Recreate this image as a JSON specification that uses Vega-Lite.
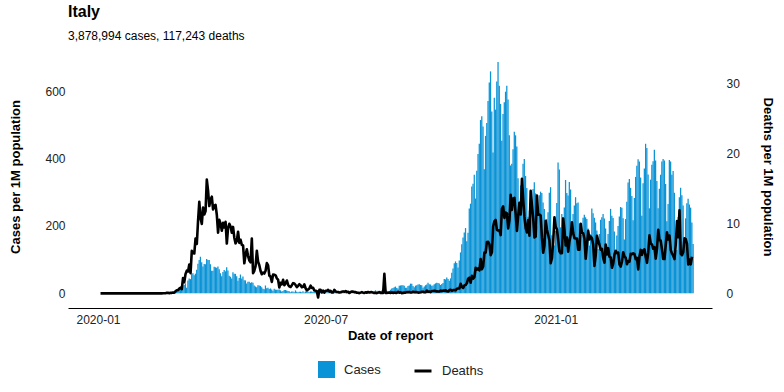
{
"$schema": "https://vega.github.io/schema/vega-lite/v6.json",
"width": 644, "height": 263,
"autosize": "none",
"padding": {"left": 68, "top": 45, "right": 72, "bottom": 84},
"config": {"view": {"stroke": null}, "font": "Liberation Sans"},
"title": {"text": "Italy", "subtitle": "3,878,994 cases, 117,243 deaths", "anchor": "start", "frame": "group", "offset": 3, "fontSize": 16, "fontWeight": "bold", "color": "#000", "subtitleFontSize": 12, "subtitleColor": "#000", "subtitlePadding": 11},
"data": {"values": [
{"date":"2020-01-03","cases":0,"deaths":0},{"date":"2020-01-04","cases":0,"deaths":0},{"date":"2020-01-05","cases":0,"deaths":0},{"date":"2020-01-06","cases":0,"deaths":0},{"date":"2020-01-07","cases":0,"deaths":0},{"date":"2020-01-08","cases":0,"deaths":0},{"date":"2020-01-09","cases":0,"deaths":0},{"date":"2020-01-10","cases":0,"deaths":0},{"date":"2020-01-11","cases":0,"deaths":0},{"date":"2020-01-12","cases":0,"deaths":0},{"date":"2020-01-13","cases":0,"deaths":0},{"date":"2020-01-14","cases":0,"deaths":0},{"date":"2020-01-15","cases":0,"deaths":0},{"date":"2020-01-16","cases":0,"deaths":0},{"date":"2020-01-17","cases":0,"deaths":0},{"date":"2020-01-18","cases":0,"deaths":0},{"date":"2020-01-19","cases":0,"deaths":0},{"date":"2020-01-20","cases":0,"deaths":0},{"date":"2020-01-21","cases":0,"deaths":0},{"date":"2020-01-22","cases":0,"deaths":0},{"date":"2020-01-23","cases":0,"deaths":0},{"date":"2020-01-24","cases":0,"deaths":0},{"date":"2020-01-25","cases":0,"deaths":0},{"date":"2020-01-26","cases":0,"deaths":0},{"date":"2020-01-27","cases":0,"deaths":0},{"date":"2020-01-28","cases":0,"deaths":0},{"date":"2020-01-29","cases":0,"deaths":0},{"date":"2020-01-30","cases":0,"deaths":0},{"date":"2020-01-31","cases":0,"deaths":0},
{"date":"2020-02-01","cases":0,"deaths":0},{"date":"2020-02-02","cases":0,"deaths":0},{"date":"2020-02-03","cases":0,"deaths":0},{"date":"2020-02-04","cases":0,"deaths":0},{"date":"2020-02-05","cases":0,"deaths":0},{"date":"2020-02-06","cases":0,"deaths":0},{"date":"2020-02-07","cases":0,"deaths":0},{"date":"2020-02-08","cases":0,"deaths":0},{"date":"2020-02-09","cases":0,"deaths":0},{"date":"2020-02-10","cases":0,"deaths":0},{"date":"2020-02-11","cases":0,"deaths":0},{"date":"2020-02-12","cases":0,"deaths":0},{"date":"2020-02-13","cases":0,"deaths":0},{"date":"2020-02-14","cases":0,"deaths":0},{"date":"2020-02-15","cases":0,"deaths":0},{"date":"2020-02-16","cases":0,"deaths":0},{"date":"2020-02-17","cases":0,"deaths":0},{"date":"2020-02-18","cases":0,"deaths":0},{"date":"2020-02-19","cases":0,"deaths":0},{"date":"2020-02-20","cases":0,"deaths":0},{"date":"2020-02-21","cases":0,"deaths":0},
{"date":"2020-02-22","cases":0.3,"deaths":0.02},{"date":"2020-02-23","cases":1.0,"deaths":0.02},{"date":"2020-02-24","cases":1.2,"deaths":0.02},{"date":"2020-02-25","cases":1.3,"deaths":0.07},{"date":"2020-02-26","cases":1.5,"deaths":0.07},{"date":"2020-02-27","cases":1.3,"deaths":0.02},{"date":"2020-02-28","cases":4.1,"deaths":0.08},{"date":"2020-02-29","cases":3.9,"deaths":0.07},
{"date":"2020-03-01","cases":4.0,"deaths":0.13},{"date":"2020-03-02","cases":9.4,"deaths":0.08},{"date":"2020-03-03","cases":5.7,"deaths":0.3},{"date":"2020-03-04","cases":7.7,"deaths":0.45},{"date":"2020-03-05","cases":9.7,"deaths":0.46},{"date":"2020-03-06","cases":12.7,"deaths":0.68},{"date":"2020-03-07","cases":12.9,"deaths":0.81},{"date":"2020-03-08","cases":20.6,"deaths":0.6},{"date":"2020-03-09","cases":24.7,"deaths":2.2},{"date":"2020-03-10","cases":29.7,"deaths":1.6},{"date":"2020-03-11","cases":16.2,"deaths":2.78},{"date":"2020-03-12","cases":38.3,"deaths":3.24},{"date":"2020-03-13","cases":43.8,"deaths":3.13},{"date":"2020-03-14","cases":42.1,"deaths":4.13},{"date":"2020-03-15","cases":57.8,"deaths":2.89},{"date":"2020-03-16","cases":59.4,"deaths":6.09},{"date":"2020-03-17","cases":53.5,"deaths":5.77},{"date":"2020-03-18","cases":58.3,"deaths":5.71},{"date":"2020-03-19","cases":69.6,"deaths":7.86},{"date":"2020-03-20","cases":88.0,"deaths":7.06},{"date":"2020-03-21","cases":99.0,"deaths":10.37},{"date":"2020-03-22","cases":108.5,"deaths":13.12},{"date":"2020-03-23","cases":92.0,"deaths":10.77},{"date":"2020-03-24","cases":79.2,"deaths":9.94},{"date":"2020-03-25","cases":86.8,"deaths":12.29},{"date":"2020-03-26","cases":86.2,"deaths":11.3},{"date":"2020-03-27","cases":101.8,"deaths":11.78},{"date":"2020-03-28","cases":98.6,"deaths":16.3},{"date":"2020-03-29","cases":98.8,"deaths":14.7},{"date":"2020-03-30","cases":86.3,"deaths":12.5},{"date":"2020-03-31","cases":67.0,"deaths":13.43},
{"date":"2020-04-01","cases":67.0,"deaths":13.84},{"date":"2020-04-02","cases":79.1,"deaths":12.02},{"date":"2020-04-03","cases":77.2,"deaths":12.57},{"date":"2020-04-04","cases":75.8,"deaths":12.67},{"date":"2020-04-05","cases":79.5,"deaths":11.26},{"date":"2020-04-06","cases":71.4,"deaths":8.68},{"date":"2020-04-07","cases":59.5,"deaths":10.52},{"date":"2020-04-08","cases":50.3,"deaths":9.99},{"date":"2020-04-09","cases":63.4,"deaths":8.96},{"date":"2020-04-10","cases":69.5,"deaths":10.09},{"date":"2020-04-11","cases":65.3,"deaths":9.43},{"date":"2020-04-12","cases":77.6,"deaths":10.24},{"date":"2020-04-13","cases":67.7,"deaths":7.13},{"date":"2020-04-14","cases":52.2,"deaths":9.36},{"date":"2020-04-15","cases":49.2,"deaths":9.96},{"date":"2020-04-16","cases":44.1,"deaths":9.56},{"date":"2020-04-17","cases":62.6,"deaths":8.68},{"date":"2020-04-18","cases":57.8,"deaths":9.51},{"date":"2020-04-19","cases":57.7,"deaths":7.97},{"date":"2020-04-20","cases":50.4,"deaths":7.16},{"date":"2020-04-21","cases":37.3,"deaths":7.51},{"date":"2020-04-22","cases":45.1,"deaths":8.83},{"date":"2020-04-23","cases":55.7,"deaths":7.23},{"date":"2020-04-24","cases":43.8,"deaths":7.67},{"date":"2020-04-25","cases":50.0,"deaths":6.95},{"date":"2020-04-26","cases":39.0,"deaths":6.86},{"date":"2020-04-27","cases":38.4,"deaths":4.3},{"date":"2020-04-28","cases":28.8,"deaths":5.51},{"date":"2020-04-29","cases":34.6,"deaths":6.32},{"date":"2020-04-30","cases":34.5,"deaths":5.34},
{"date":"2020-05-01","cases":31.0,"deaths":4.71},{"date":"2020-05-02","cases":32.5,"deaths":4.45},{"date":"2020-05-03","cases":31.4,"deaths":7.84},{"date":"2020-05-04","cases":23.0,"deaths":2.88},{"date":"2020-05-05","cases":20.2,"deaths":3.23},{"date":"2020-05-06","cases":17.8,"deaths":3.9},{"date":"2020-05-07","cases":23.9,"deaths":6.1},{"date":"2020-05-08","cases":23.2,"deaths":4.53},{"date":"2020-05-09","cases":21.9,"deaths":4.02},{"date":"2020-05-10","cases":17.9,"deaths":3.21},{"date":"2020-05-11","cases":13.3,"deaths":2.73},{"date":"2020-05-12","cases":12.3,"deaths":2.96},{"date":"2020-05-13","cases":23.2,"deaths":2.84},{"date":"2020-05-14","cases":14.7,"deaths":3.23},{"date":"2020-05-15","cases":16.4,"deaths":4.33},{"date":"2020-05-16","cases":13.0,"deaths":4.0},{"date":"2020-05-17","cases":14.5,"deaths":2.53},{"date":"2020-05-18","cases":11.2,"deaths":2.4},{"date":"2020-05-19","cases":7.5,"deaths":1.64},{"date":"2020-05-20","cases":13.4,"deaths":2.68},{"date":"2020-05-21","cases":11.0,"deaths":2.66},{"date":"2020-05-22","cases":10.6,"deaths":2.58},{"date":"2020-05-23","cases":10.8,"deaths":2.15},{"date":"2020-05-24","cases":11.1,"deaths":1.97},{"date":"2020-05-25","cases":8.8,"deaths":0.83},{"date":"2020-05-26","cases":5.0,"deaths":1.52},{"date":"2020-05-27","cases":6.6,"deaths":1.29},{"date":"2020-05-28","cases":9.7,"deaths":1.94},{"date":"2020-05-29","cases":9.8,"deaths":1.16},{"date":"2020-05-30","cases":8.5,"deaths":1.44},{"date":"2020-05-31","cases":6.9,"deaths":1.84},
{"date":"2020-06-01","cases":5.9,"deaths":1.24},{"date":"2020-06-02","cases":2.9,"deaths":0.99},{"date":"2020-06-03","cases":5.3,"deaths":0.91},{"date":"2020-06-04","cases":5.3,"deaths":1.17},{"date":"2020-06-05","cases":2.9,"deaths":1.46},{"date":"2020-06-06","cases":8.6,"deaths":1.41},{"date":"2020-06-07","cases":4.5,"deaths":1.19},{"date":"2020-06-08","cases":3.3,"deaths":0.88},{"date":"2020-06-09","cases":4.6,"deaths":1.08},{"date":"2020-06-10","cases":4.7,"deaths":1.31},{"date":"2020-06-11","cases":3.3,"deaths":1.17},{"date":"2020-06-12","cases":6.3,"deaths":0.88},{"date":"2020-06-13","cases":2.7,"deaths":0.93},{"date":"2020-06-14","cases":5.7,"deaths":1.29},{"date":"2020-06-15","cases":5.6,"deaths":0.73},{"date":"2020-06-16","cases":5.0,"deaths":0.43},{"date":"2020-06-17","cases":3.5,"deaths":0.56},{"date":"2020-06-18","cases":5.4,"deaths":0.71},{"date":"2020-06-19","cases":5.5,"deaths":1.09},{"date":"2020-06-20","cases":4.2,"deaths":0.78},{"date":"2020-06-21","cases":4.3,"deaths":0.81},{"date":"2020-06-22","cases":3.7,"deaths":0.4},{"date":"2020-06-23","cases":3.6,"deaths":0.38},{"date":"2020-06-24","cases":2.0,"deaths":0.3},{"date":"2020-06-25","cases":3.1,"deaths":-0.6},{"date":"2020-06-26","cases":4.9,"deaths":0.5},{"date":"2020-06-27","cases":4.3,"deaths":0.5},{"date":"2020-06-28","cases":2.9,"deaths":0.13},{"date":"2020-06-29","cases":2.9,"deaths":0.4},{"date":"2020-06-30","cases":2.1,"deaths":0.1},
{"date":"2020-07-01","cases":2.3,"deaths":0.38},{"date":"2020-07-02","cases":3.0,"deaths":0.35},{"date":"2020-07-03","cases":3.3,"deaths":0.5},{"date":"2020-07-04","cases":3.7,"deaths":0.25},{"date":"2020-07-05","cases":3.9,"deaths":0.35},{"date":"2020-07-06","cases":3.2,"deaths":0.12},{"date":"2020-07-07","cases":3.4,"deaths":0.13},{"date":"2020-07-08","cases":2.3,"deaths":0.5},{"date":"2020-07-09","cases":3.2,"deaths":0.25},{"date":"2020-07-10","cases":3.8,"deaths":0.2},{"date":"2020-07-11","cases":4.6,"deaths":0.2},{"date":"2020-07-12","cases":3.1,"deaths":0.12},{"date":"2020-07-13","cases":3.9,"deaths":0.15},{"date":"2020-07-14","cases":2.8,"deaths":0.22},{"date":"2020-07-15","cases":1.9,"deaths":0.28},{"date":"2020-07-16","cases":2.7,"deaths":0.22},{"date":"2020-07-17","cases":3.8,"deaths":0.33},{"date":"2020-07-18","cases":3.9,"deaths":0.18},{"date":"2020-07-19","cases":4.1,"deaths":0.23},{"date":"2020-07-20","cases":3.6,"deaths":0.05},{"date":"2020-07-21","cases":3.6,"deaths":0.2},{"date":"2020-07-22","cases":2.1,"deaths":0.25},{"date":"2020-07-23","cases":3.1,"deaths":0.25},{"date":"2020-07-24","cases":4.6,"deaths":0.18},{"date":"2020-07-25","cases":5.1,"deaths":0.17},{"date":"2020-07-26","cases":4.2,"deaths":0.08},{"date":"2020-07-27","cases":4.5,"deaths":0.08},{"date":"2020-07-28","cases":4.2,"deaths":0.03},{"date":"2020-07-29","cases":2.8,"deaths":0.1},{"date":"2020-07-30","cases":3.5,"deaths":0.18},{"date":"2020-07-31","cases":4.8,"deaths":0.1},
{"date":"2020-08-01","cases":6.4,"deaths":0.05},{"date":"2020-08-02","cases":6.3,"deaths":0.15},{"date":"2020-08-03","cases":4.9,"deaths":0.08},{"date":"2020-08-04","cases":4.0,"deaths":0.2},{"date":"2020-08-05","cases":2.6,"deaths":0.13},{"date":"2020-08-06","cases":3.1,"deaths":0.17},{"date":"2020-08-07","cases":6.4,"deaths":0.17},{"date":"2020-08-08","cases":6.6,"deaths":0.1},{"date":"2020-08-09","cases":9.1,"deaths":0.05},{"date":"2020-08-10","cases":5.7,"deaths":0.07},{"date":"2020-08-11","cases":7.7,"deaths":0.03},{"date":"2020-08-12","cases":4.3,"deaths":0.1},{"date":"2020-08-13","cases":6.8,"deaths":0.17},{"date":"2020-08-14","cases":8.0,"deaths":0.05},{"date":"2020-08-15","cases":8.7,"deaths":0.1},{"date":"2020-08-16","cases":9.5,"deaths":0.05},{"date":"2020-08-17","cases":10.4,"deaths":2.8},{"date":"2020-08-18","cases":7.9,"deaths":0.07},{"date":"2020-08-19","cases":5.3,"deaths":0.07},{"date":"2020-08-20","cases":6.7,"deaths":0.08},{"date":"2020-08-21","cases":10.6,"deaths":0.12},{"date":"2020-08-22","cases":14.0,"deaths":0.05},{"date":"2020-08-23","cases":15.7,"deaths":0.15},{"date":"2020-08-24","cases":17.7,"deaths":0.05},{"date":"2020-08-25","cases":20.0,"deaths":0.12},{"date":"2020-08-26","cases":15.8,"deaths":0.07},{"date":"2020-08-27","cases":14.5,"deaths":0.07},{"date":"2020-08-28","cases":22.6,"deaths":0.22},{"date":"2020-08-29","cases":23.3,"deaths":0.08},{"date":"2020-08-30","cases":24.2,"deaths":0.15},{"date":"2020-08-31","cases":23.9,"deaths":0.02},
{"date":"2020-09-01","cases":22.6,"deaths":0.07},{"date":"2020-09-02","cases":16.5,"deaths":0.1},{"date":"2020-09-03","cases":16.2,"deaths":0.1},{"date":"2020-09-04","cases":21.9,"deaths":0.17},{"date":"2020-09-05","cases":23.1,"deaths":0.17},{"date":"2020-09-06","cases":28.7,"deaths":0.18},{"date":"2020-09-07","cases":28.0,"deaths":0.12},{"date":"2020-09-08","cases":21.5,"deaths":0.13},{"date":"2020-09-09","cases":18.3,"deaths":0.23},{"date":"2020-09-10","cases":22.7,"deaths":0.17},{"date":"2020-09-11","cases":23.7,"deaths":0.17},{"date":"2020-09-12","cases":26.4,"deaths":0.17},{"date":"2020-09-13","cases":26.7,"deaths":0.1},{"date":"2020-09-14","cases":24.8,"deaths":0.12},{"date":"2020-09-15","cases":24.1,"deaths":0.15},{"date":"2020-09-16","cases":16.7,"deaths":0.23},{"date":"2020-09-17","cases":20.3,"deaths":0.23},{"date":"2020-09-18","cases":24.0,"deaths":0.15},{"date":"2020-09-19","cases":26.2,"deaths":0.17},{"date":"2020-09-20","cases":31.5,"deaths":0.4},{"date":"2020-09-21","cases":27.1,"deaths":0.22},{"date":"2020-09-22","cases":26.2,"deaths":0.25},{"date":"2020-09-23","cases":22.3,"deaths":0.18},{"date":"2020-09-24","cases":23.0,"deaths":0.33},{"date":"2020-09-25","cases":27.1,"deaths":0.33},{"date":"2020-09-26","cases":29.5,"deaths":0.38},{"date":"2020-09-27","cases":31.6,"deaths":0.33},{"date":"2020-09-28","cases":30.9,"deaths":0.28},{"date":"2020-09-29","cases":29.2,"deaths":0.26},{"date":"2020-09-30","cases":24.7,"deaths":0.26},
{"date":"2020-10-01","cases":27.3,"deaths":0.4},{"date":"2020-10-02","cases":30.6,"deaths":0.31},{"date":"2020-10-03","cases":42.1,"deaths":0.4},{"date":"2020-10-04","cases":41.3,"deaths":0.38},{"date":"2020-10-05","cases":47.0,"deaths":0.45},{"date":"2020-10-06","cases":42.6,"deaths":0.3},{"date":"2020-10-07","cases":37.3,"deaths":0.26},{"date":"2020-10-08","cases":44.3,"deaths":0.46},{"date":"2020-10-09","cases":60.8,"deaths":0.51},{"date":"2020-10-10","cases":73.7,"deaths":0.36},{"date":"2020-10-11","cases":88.9,"deaths":0.46},{"date":"2020-10-12","cases":94.7,"deaths":0.48},{"date":"2020-10-13","cases":90.2,"deaths":0.43},{"date":"2020-10-14","cases":76.4,"deaths":0.65},{"date":"2020-10-15","cases":97.6,"deaths":0.68},{"date":"2020-10-16","cases":121.3,"deaths":0.71},{"date":"2020-10-17","cases":145.6,"deaths":1.37},{"date":"2020-10-18","cases":165.6,"deaths":0.91},{"date":"2020-10-19","cases":180.7,"deaths":0.78},{"date":"2020-10-20","cases":193.6,"deaths":1.14},{"date":"2020-10-21","cases":154.4,"deaths":1.21},{"date":"2020-10-22","cases":179.9,"deaths":1.47},{"date":"2020-10-23","cases":251.4,"deaths":2.1},{"date":"2020-10-24","cases":265.9,"deaths":2.25},{"date":"2020-10-25","cases":316.6,"deaths":1.51},{"date":"2020-10-26","cases":324.9,"deaths":2.5},{"date":"2020-10-27","cases":351.9,"deaths":2.12},{"date":"2020-10-28","cases":281.4,"deaths":2.33},{"date":"2020-10-29","cases":363.8,"deaths":3.66},{"date":"2020-10-30","cases":413.3,"deaths":3.39},{"date":"2020-10-31","cases":443.8,"deaths":3.59},
{"date":"2020-11-01","cases":514.1,"deaths":3.29},{"date":"2020-11-02","cases":525.3,"deaths":4.91},{"date":"2020-11-03","cases":494.7,"deaths":3.44},{"date":"2020-11-04","cases":368.1,"deaths":3.85},{"date":"2020-11-05","cases":467.1,"deaths":5.84},{"date":"2020-11-06","cases":505.3,"deaths":5.82},{"date":"2020-11-07","cases":570.7,"deaths":7.36},{"date":"2020-11-08","cases":625.4,"deaths":7.38},{"date":"2020-11-09","cases":658.5,"deaths":7.03},{"date":"2020-11-10","cases":539.5,"deaths":5.47},{"date":"2020-11-11","cases":418.0,"deaths":5.89},{"date":"2020-11-12","cases":580.5,"deaths":9.59},{"date":"2020-11-13","cases":545.2,"deaths":10.3},{"date":"2020-11-14","cases":628.2,"deaths":10.52},{"date":"2020-11-15","cases":686.5,"deaths":9.1},{"date":"2020-11-16","cases":616.2,"deaths":9.0},{"date":"2020-11-17","cases":562.0,"deaths":9.03},{"date":"2020-11-18","cases":452.4,"deaths":8.34},{"date":"2020-11-19","cases":532.4,"deaths":12.09},{"date":"2020-11-20","cases":567.0,"deaths":12.45},{"date":"2020-11-21","cases":598.3,"deaths":10.8},{"date":"2020-11-22","cases":616.0,"deaths":11.56},{"date":"2020-11-23","cases":575.1,"deaths":11.45},{"date":"2020-11-24","cases":468.7,"deaths":9.3},{"date":"2020-11-25","cases":379.3,"deaths":10.42},{"date":"2020-11-26","cases":384.3,"deaths":14.11},{"date":"2020-11-27","cases":427.6,"deaths":11.94},{"date":"2020-11-28","cases":479.7,"deaths":13.6},{"date":"2020-11-29","cases":468.9,"deaths":13.68},{"date":"2020-11-30","cases":435.4,"deaths":11.35},
{"date":"2020-12-01","cases":341.5,"deaths":8.95},{"date":"2020-12-02","cases":270.9,"deaths":11.11},{"date":"2020-12-03","cases":320.0,"deaths":12.98},{"date":"2020-12-04","cases":342.5,"deaths":11.31},{"date":"2020-12-05","cases":384.1,"deaths":16.42},{"date":"2020-12-06","cases":398.6,"deaths":13.46},{"date":"2020-12-07","cases":348.2,"deaths":10.95},{"date":"2020-12-08","cases":312.4,"deaths":9.33},{"date":"2020-12-09","cases":226.9,"deaths":8.73},{"date":"2020-12-10","cases":245.5,"deaths":10.49},{"date":"2020-12-11","cases":211.0,"deaths":8.25},{"date":"2020-12-12","cases":281.2,"deaths":14.67},{"date":"2020-12-13","cases":309.7,"deaths":12.59},{"date":"2020-12-14","cases":329.2,"deaths":10.73},{"date":"2020-12-15","cases":296.7,"deaths":8.01},{"date":"2020-12-16","cases":199.0,"deaths":8.12},{"date":"2020-12-17","cases":245.5,"deaths":13.99},{"date":"2020-12-18","cases":290.6,"deaths":11.25},{"date":"2020-12-19","cases":301.6,"deaths":11.3},{"date":"2020-12-20","cases":297.6,"deaths":11.15},{"date":"2020-12-21","cases":269.7,"deaths":8.01},{"date":"2020-12-22","cases":249.8,"deaths":5.82},{"date":"2020-12-23","cases":179.8,"deaths":6.86},{"date":"2020-12-24","cases":220.3,"deaths":10.39},{"date":"2020-12-25","cases":240.2,"deaths":9.15},{"date":"2020-12-26","cases":298.4,"deaths":8.35},{"date":"2020-12-27","cases":314.9,"deaths":7.59},{"date":"2020-12-28","cases":172.1,"deaths":4.32},{"date":"2020-12-29","cases":147.4,"deaths":5.04},{"date":"2020-12-30","cases":142.0,"deaths":7.36},{"date":"2020-12-31","cases":185.4,"deaths":10.9},
{"date":"2021-01-01","cases":268.0,"deaths":9.51},{"date":"2021-01-02","cases":388.3,"deaths":9.18},{"date":"2021-01-03","cases":367.4,"deaths":7.64},{"date":"2021-01-04","cases":195.7,"deaths":6.02},{"date":"2021-01-05","cases":235.6,"deaths":5.74},{"date":"2021-01-06","cases":178.6,"deaths":5.76},{"date":"2021-01-07","cases":254.3,"deaths":10.73},{"date":"2021-01-08","cases":336.3,"deaths":9.06},{"date":"2021-01-09","cases":298.0,"deaths":6.85},{"date":"2021-01-10","cases":290.0,"deaths":7.99},{"date":"2021-01-11","cases":330.4,"deaths":5.97},{"date":"2021-01-12","cases":308.1,"deaths":7.41},{"date":"2021-01-13","cases":207.3,"deaths":8.39},{"date":"2021-01-14","cases":235.6,"deaths":10.19},{"date":"2021-01-15","cases":260.9,"deaths":8.63},{"date":"2021-01-16","cases":285.2,"deaths":7.89},{"date":"2021-01-17","cases":267.1,"deaths":7.86},{"date":"2021-01-18","cases":269.8,"deaths":7.86},{"date":"2021-01-19","cases":207.5,"deaths":6.24},{"date":"2021-01-20","cases":145.9,"deaths":6.24},{"date":"2021-01-21","cases":173.6,"deaths":9.97},{"date":"2021-01-22","cases":224.5,"deaths":8.67},{"date":"2021-01-23","cases":232.8,"deaths":8.62},{"date":"2021-01-24","cases":225.5,"deaths":7.81},{"date":"2021-01-25","cases":220.5,"deaths":4.95},{"date":"2021-01-26","cases":192.3,"deaths":6.95},{"date":"2021-01-27","cases":141.6,"deaths":8.95},{"date":"2021-01-28","cases":175.2,"deaths":7.72},{"date":"2021-01-29","cases":251.5,"deaths":8.14},{"date":"2021-01-30","cases":237.7,"deaths":7.89},{"date":"2021-01-31","cases":224.5,"deaths":6.96},
{"date":"2021-02-01","cases":210.3,"deaths":3.92},{"date":"2021-02-02","cases":186.1,"deaths":5.44},{"date":"2021-02-03","cases":131.1,"deaths":8.25},{"date":"2021-02-04","cases":175.8,"deaths":7.54},{"date":"2021-02-05","cases":218.1,"deaths":6.96},{"date":"2021-02-06","cases":225.9,"deaths":6.24},{"date":"2021-02-07","cases":235.2,"deaths":6.37},{"date":"2021-02-08","cases":222.3,"deaths":5.08},{"date":"2021-02-09","cases":192.5,"deaths":4.4},{"date":"2021-02-10","cases":131.8,"deaths":6.98},{"date":"2021-02-11","cases":175.7,"deaths":5.56},{"date":"2021-02-12","cases":214.3,"deaths":6.47},{"date":"2021-02-13","cases":250.5,"deaths":5.23},{"date":"2021-02-14","cases":230.0,"deaths":5.14},{"date":"2021-02-15","cases":223.8,"deaths":3.66},{"date":"2021-02-16","cases":183.1,"deaths":4.27},{"date":"2021-02-17","cases":121.6,"deaths":5.56},{"date":"2021-02-18","cases":171.8,"deaths":6.1},{"date":"2021-02-19","cases":199.7,"deaths":5.74},{"date":"2021-02-20","cases":227.6,"deaths":5.84},{"date":"2021-02-21","cases":256.0,"deaths":4.15},{"date":"2021-02-22","cases":254.2,"deaths":3.84},{"date":"2021-02-23","cases":222.5,"deaths":4.53},{"date":"2021-02-24","cases":159.3,"deaths":5.89},{"date":"2021-02-25","cases":220.2,"deaths":5.26},{"date":"2021-02-26","cases":271.6,"deaths":5.09},{"date":"2021-02-27","cases":328.9,"deaths":4.18},{"date":"2021-02-28","cases":339.1,"deaths":4.63},
{"date":"2021-03-01","cases":312.9,"deaths":4.53},{"date":"2021-03-02","cases":288.7,"deaths":5.67},{"date":"2021-03-03","cases":216.9,"deaths":5.61},{"date":"2021-03-04","cases":282.6,"deaths":5.74},{"date":"2021-03-05","cases":345.4,"deaths":5.61},{"date":"2021-03-06","cases":378.2,"deaths":4.91},{"date":"2021-03-07","cases":397.6,"deaths":5.08},{"date":"2021-03-08","cases":391.0,"deaths":3.42},{"date":"2021-03-09","cases":343.5,"deaths":5.26},{"date":"2021-03-10","cases":229.9,"deaths":6.22},{"date":"2021-03-11","cases":326.6,"deaths":5.49},{"date":"2021-03-12","cases":370.6,"deaths":6.17},{"date":"2021-03-13","cases":443.7,"deaths":6.29},{"date":"2021-03-14","cases":431.1,"deaths":5.24},{"date":"2021-03-15","cases":352.5,"deaths":4.37},{"date":"2021-03-16","cases":252.5,"deaths":5.86},{"date":"2021-03-17","cases":337.3,"deaths":8.3},{"date":"2021-03-18","cases":381.4,"deaths":7.13},{"date":"2021-03-19","cases":391.9,"deaths":7.0},{"date":"2021-03-20","cases":425.7,"deaths":6.38},{"date":"2021-03-21","cases":394.2,"deaths":6.63},{"date":"2021-03-22","cases":333.4,"deaths":4.96},{"date":"2021-03-23","cases":252.5,"deaths":6.38},{"date":"2021-03-24","cases":310.4,"deaths":9.11},{"date":"2021-03-25","cases":351.8,"deaths":7.61},{"date":"2021-03-26","cases":390.9,"deaths":7.56},{"date":"2021-03-27","cases":398.2,"deaths":6.29},{"date":"2021-03-28","cases":394.3,"deaths":4.91},{"date":"2021-03-29","cases":324.4,"deaths":4.91},{"date":"2021-03-30","cases":213.6,"deaths":6.9},{"date":"2021-03-31","cases":264.9,"deaths":8.75},
{"date":"2021-04-01","cases":395.4,"deaths":7.72},{"date":"2021-04-02","cases":391.1,"deaths":8.29},{"date":"2021-04-03","cases":351.7,"deaths":6.22},{"date":"2021-04-04","cases":362.7,"deaths":5.69},{"date":"2021-04-05","cases":298.1,"deaths":5.39},{"date":"2021-04-06","cases":176.6,"deaths":4.9},{"date":"2021-04-07","cases":128.5,"deaths":6.96},{"date":"2021-04-08","cases":226.7,"deaths":10.37},{"date":"2021-04-09","cases":284.8,"deaths":8.05},{"date":"2021-04-10","cases":313.2,"deaths":11.88},{"date":"2021-04-11","cases":290.6,"deaths":5.69},{"date":"2021-04-12","cases":260.4,"deaths":5.47},{"date":"2021-04-13","cases":161.9,"deaths":5.92},{"date":"2021-04-14","cases":222.4,"deaths":7.87},{"date":"2021-04-15","cases":267.4,"deaths":7.76},{"date":"2021-04-16","cases":280.7,"deaths":7.1},{"date":"2021-04-17","cases":263.7,"deaths":4.15},{"date":"2021-04-18","cases":254.2,"deaths":4.85},{"date":"2021-04-19","cases":210.0,"deaths":4.15},{"date":"2021-04-20","cases":146.6,"deaths":5.23}
]},
"layer": [
{"mark": {"type": "bar", "binSpacing": 0},
 "encoding": {
  "x": {"field": "date", "type": "temporal", "timeUnit": "utcyearmonthdate",
        "scale": {"domain": ["2019-12-08", "2021-05-06"], "nice": false},
        "axis": {"title": "Date of report", "format": "%Y-%m", "values": [{"year": 2020, "month": 1, "date": 1, "utc": true}, {"year": 2020, "month": 7, "date": 1, "utc": true}, {"year": 2021, "month": 1, "date": 1, "utc": true}], "ticks": false, "grid": false, "domainColor": "#000", "domainWidth": 1, "labelFontSize": 12, "labelColor": "#222", "labelPadding": 6, "titleFontSize": 13, "titleFontWeight": "bold", "titleColor": "#000", "titlePadding": 4}},
  "y": {"field": "cases", "type": "quantitative",
        "scale": {"domain": [-43.6, 736.8], "nice": false, "zero": false},
        "axis": {"orient": "left", "title": "Cases per 1M population", "values": [0, 200, 400, 600], "domain": false, "ticks": false, "grid": false, "labelFontSize": 12, "labelColor": "#222", "labelPadding": 3, "titleFontSize": 13, "titleFontWeight": "bold", "titleColor": "#000", "titlePadding": 22}},
  "fill": {"datum": "Cases", "type": "nominal",
        "scale": {"domain": ["Cases"], "range": ["#0a93d6"]},
        "legend": {"title": null, "orient": "none", "legendX": 250, "legendY": 316, "symbolType": "square", "symbolSize": 289, "symbolStrokeWidth": 0, "labelFontSize": 13, "labelColor": "#222", "labelOffset": 9}}
 }},
{"mark": {"type": "line", "strokeWidth": 2.6, "strokeJoin": "round"},
 "encoding": {
  "x": {"field": "date", "type": "temporal"},
  "y": {"field": "deaths", "type": "quantitative",
        "scale": {"domain": [-2.1, 35.57], "nice": false, "zero": false},
        "axis": {"orient": "right", "title": "Deaths per 1M population", "values": [0, 10, 20, 30], "domain": false, "ticks": false, "grid": false, "labelFontSize": 12, "labelColor": "#222", "labelPadding": 14, "titleFontSize": 13, "titleFontWeight": "bold", "titleColor": "#000", "titlePadding": 21}},
  "stroke": {"datum": "Deaths", "type": "nominal",
        "scale": {"domain": ["Deaths"], "range": ["#000000"]},
        "legend": {"title": null, "orient": "none", "legendX": 345, "legendY": 316, "symbolType": "stroke", "symbolSize": 289, "symbolStrokeWidth": 3, "labelFontSize": 13, "labelColor": "#222", "labelOffset": 9}}
 }}
],
"resolve": {"scale": {"y": "independent"}}
}
